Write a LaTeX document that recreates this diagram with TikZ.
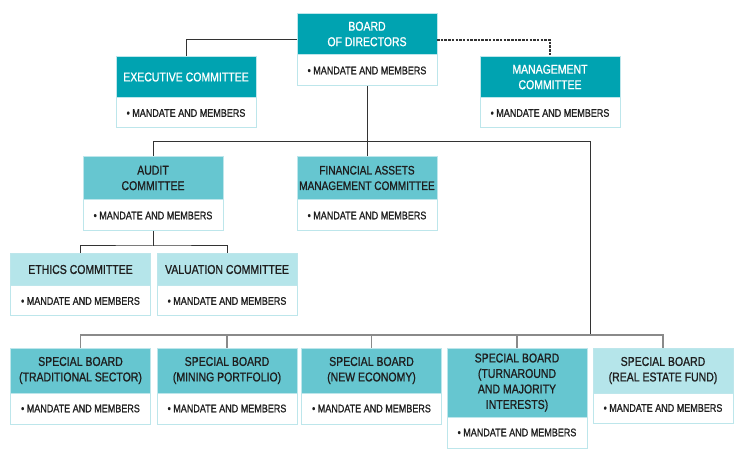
\documentclass[tikz,border=0pt]{standalone}
\usepackage{fontspec}
\setmainfont[FakeStretch=0.82,FakeBold=1]{Liberation Sans}
\usetikzlibrary{positioning}

\definecolor{tealdark}{HTML}{00A3B1}
\definecolor{tealmid}{HTML}{66C6D0}
\definecolor{teallight}{HTML}{B5E5EA}
\definecolor{boxrim}{HTML}{BDE6EB}
\definecolor{inktext}{HTML}{1E1E1E}
\definecolor{wiregray}{HTML}{333333}
\definecolor{busgray}{HTML}{8A8A8A}

\tikzset{
    head/.style={anchor=north, minimum width=140pt, inner xsep=1pt, align=center,
        font=\fontsize{12.8}{15.5}\selectfont, draw=boxrim, line width=0.8pt, outer sep=0pt},
    headdark/.style={head, fill=tealdark, text=white},
    headmid/.style={head, fill=tealmid, text=inktext},
    headlight/.style={head, fill=teallight, text=inktext},
    duties/.style={minimum width=140pt, minimum height=31pt, fill=white, draw=boxrim,
        line width=1pt, outer sep=0pt, text=inktext, font=\fontsize{11}{12}\selectfont},
    wire/.style={draw=wiregray, line width=1pt},
    busline/.style={draw=busgray, line width=1.4pt},
}

\begin{document}
\begin{tikzpicture}[x=1pt,y=-1pt]
    \useasboundingbox (0,0) rectangle (745,473);

    % top level: board with its two committees
    \node[headdark, minimum height=42pt] (board) at (367,13) {BOARD\\OF DIRECTORS};
    \node[duties, below=0pt of board] (boardbody) {• MANDATE AND MEMBERS};
    \node[headdark, minimum height=42pt] (exec) at (186,56) {EXECUTIVE COMMITTEE};
    \node[duties, minimum height=30pt, below=0pt of exec] (execbody) {• MANDATE AND MEMBERS};
    \node[headdark, minimum height=42pt] (mgmt) at (550,56) {MANAGEMENT\\COMMITTEE};
    \node[duties, minimum height=30pt, below=0pt of mgmt] (mgmtbody) {• MANDATE AND MEMBERS};

    % second level
    \node[headmid, minimum height=44pt] (audit) at (153,156) {AUDIT\\COMMITTEE};
    \node[duties, below=0pt of audit] (auditbody) {• MANDATE AND MEMBERS};
    \node[headmid, minimum height=44pt, font=\fontsize{12.3}{15.5}\selectfont] (fin) at (367,156) {FINANCIAL ASSETS\\MANAGEMENT COMMITTEE};
    \node[duties, below=0pt of fin] (finbody) {• MANDATE AND MEMBERS};

    % under the audit committee
    \node[headlight, minimum height=33pt] (ethics) at (80.5,253) {ETHICS COMMITTEE};
    \node[duties, minimum height=30pt, below=0pt of ethics] (ethicsbody) {• MANDATE AND MEMBERS};
    \node[headlight, minimum height=33pt] (valu) at (227,253) {VALUATION COMMITTEE};
    \node[duties, minimum height=30pt, below=0pt of valu] (valubody) {• MANDATE AND MEMBERS};

    % special boards
    \node[headmid, minimum height=45pt] (sb1) at (80.5,348) {SPECIAL BOARD\\(TRADITIONAL SECTOR)};
    \node[duties, below=0pt of sb1] (sb1body) {• MANDATE AND MEMBERS};
    \node[headmid, minimum height=45pt] (sb2) at (227,348) {SPECIAL BOARD\\(MINING PORTFOLIO)};
    \node[duties, below=0pt of sb2] (sb2body) {• MANDATE AND MEMBERS};
    \node[headmid, minimum height=45pt] (sb3) at (371.5,348) {SPECIAL BOARD\\(NEW ECONOMY)};
    \node[duties, below=0pt of sb3] (sb3body) {• MANDATE AND MEMBERS};
    \node[headmid, minimum height=69pt] (sb4) at (517,348) {SPECIAL BOARD\\(TURNAROUND\\AND MAJORITY\\INTERESTS)};
    \node[duties, below=0pt of sb4] (sb4body) {• MANDATE AND MEMBERS};
    \node[headlight, minimum height=45pt] (sb5) at (663,348) {SPECIAL BOARD\\(REAL ESTATE FUND)};
    \node[duties, minimum height=30pt, below=0pt of sb5] (sb5body) {• MANDATE AND MEMBERS};

    % helper points for the branch lines
    \coordinate (turn) at (590,142);
    \coordinate (drop) at (590,335);

    % connectors
    \draw[wire] ([yshift=-6pt]board.west) -| (exec.north);
    \draw[wire, line width=1.2pt, dash pattern=on 2.5pt off 1.2pt] ([yshift=-6pt]board.east) -| (mgmt.north);
    \draw[wire] (boardbody.south) -- (fin.north);
    \draw[wire] (audit.north) |- (turn) -- (drop);
    \draw[wire] (auditbody.south) -- ++(0,15) coordinate (auditbus);
    \draw[wire] (ethics.north) |- (auditbus) -| (valu.north);
    \draw[busline] (sb1.north) |- (drop -| sb5.north) -- (sb5.north);
    \foreach \b in {sb2,sb3,sb4}
        \draw[busline] (\b.north) -- (\b.north |- drop);
\end{tikzpicture}
\end{document}
